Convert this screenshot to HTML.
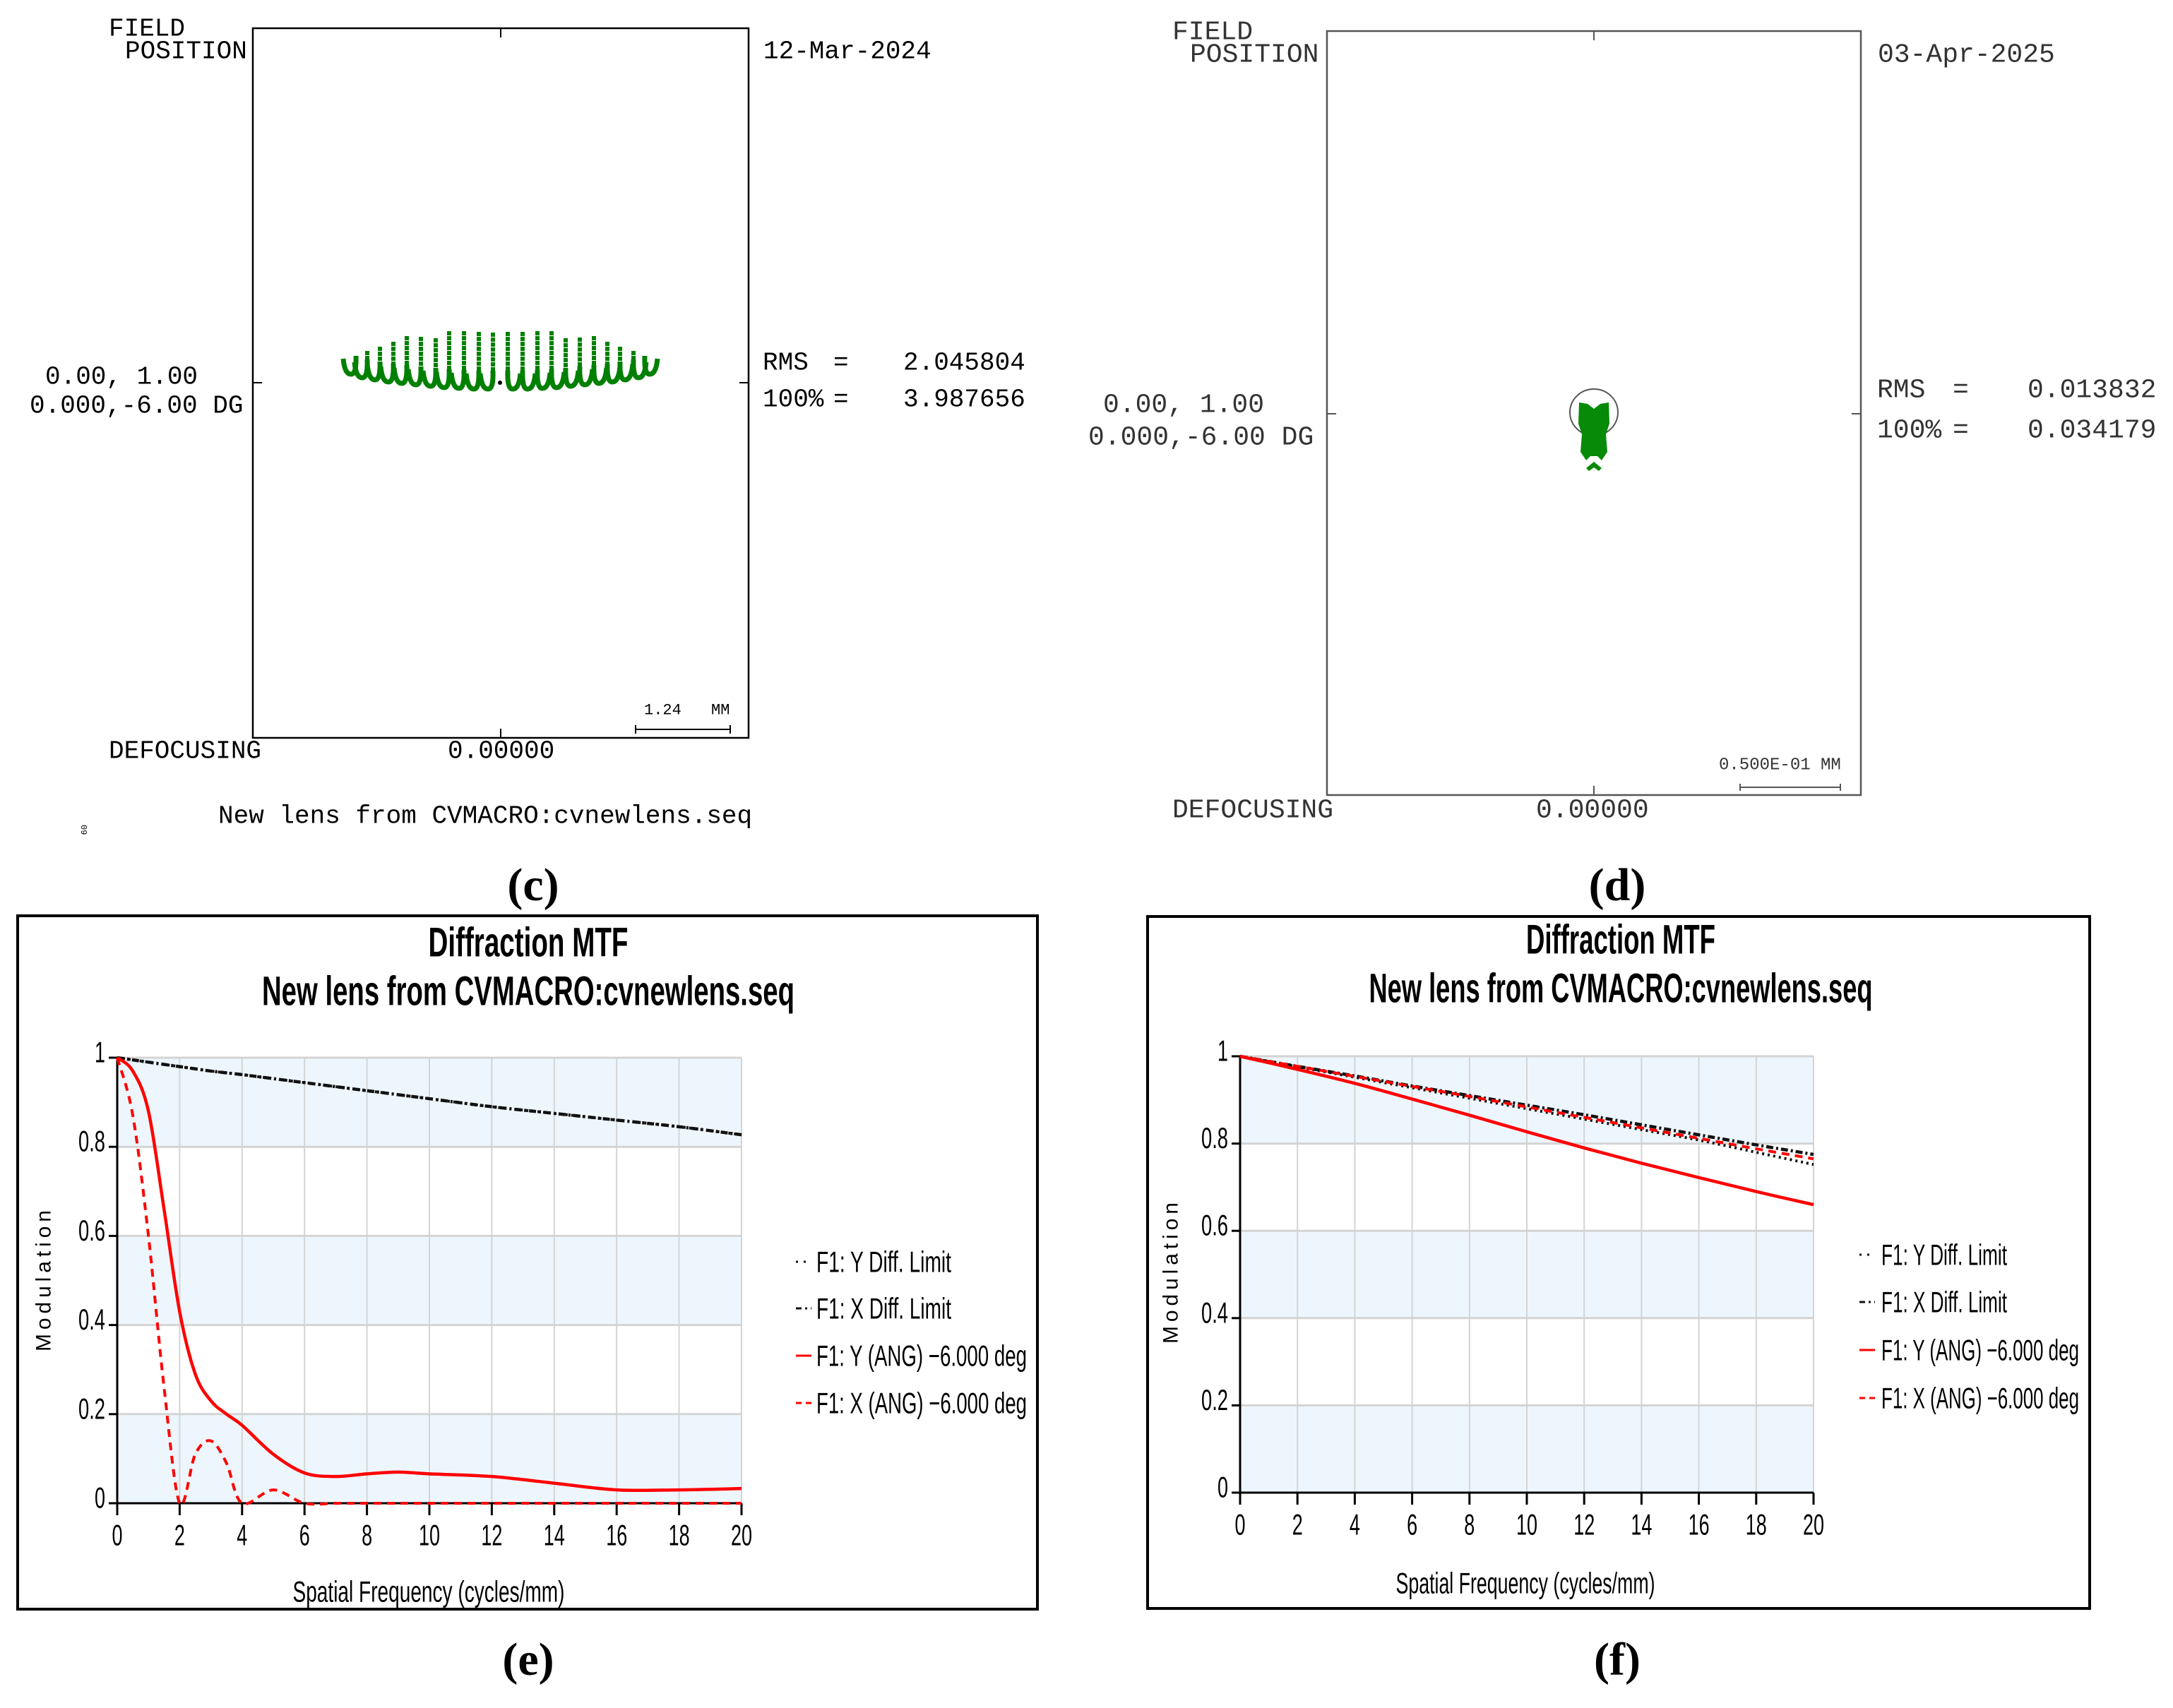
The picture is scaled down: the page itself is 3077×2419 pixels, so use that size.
<!DOCTYPE html>
<html><head><meta charset="utf-8"><style>
html,body{margin:0;padding:0;background:#fff;}
svg{display:block;}
.mono{font-family:"Liberation Mono","DejaVu Sans Mono",monospace;}
.nar{font-family:"Liberation Sans Narrow","Liberation Sans",sans-serif;}
.lab{font-family:"Liberation Serif",serif;font-weight:bold;font-size:66px;}
</style></head><body>
<svg id="root" xmlns="http://www.w3.org/2000/svg" width="3077" height="2419" viewBox="0 0 3077 2419">
<g id="pc" class="mono" font-size="36" fill="#000" dominant-baseline="central">
  <rect x="358" y="40" width="702" height="1005" fill="none" stroke="#000" stroke-width="2.5"/>
  <line x1="709" y1="40" x2="709" y2="53" stroke="#000" stroke-width="2"/>
  <line x1="709" y1="1045" x2="709" y2="1032" stroke="#000" stroke-width="2"/>
  <line x1="358" y1="542" x2="371" y2="542" stroke="#000" stroke-width="2"/>
  <line x1="1060" y1="542" x2="1047" y2="542" stroke="#000" stroke-width="2"/>
  <text x="154" y="41">FIELD</text>
  <text x="177" y="73">POSITION</text>
  <text x="1081" y="73">12-Mar-2024</text>
  <text x="64" y="534">0.00, 1.00</text>
  <text x="42" y="575">0.000,-6.00 DG</text>
  <text x="1080" y="514">RMS</text>
  <text x="1180" y="514">=</text>
  <text x="1279" y="514">2.045804</text>
  <text x="1080" y="566">100%</text>
  <text x="1180" y="566">=</text>
  <text x="1279" y="566">3.987656</text>
  <text x="912" y="1006" font-size="22">1.24</text>
  <text x="1007" y="1006" font-size="22">MM</text>
  <g stroke="#000" stroke-width="2">
    <line x1="900" y1="1033" x2="1034" y2="1033"/><line x1="900" y1="1027" x2="900" y2="1039"/><line x1="1034" y1="1027" x2="1034" y2="1039"/>
  </g>
  <text x="154" y="1064">DEFOCUSING</text>
  <text x="634" y="1064">0.00000</text>
  <text x="309" y="1156">New lens from CVMACRO:cvnewlens.seq</text>
  <text x="118" y="1168" font-size="12" transform="rotate(90 118 1168)">09</text>
  <g id="spotc"></g>
</g>
<g id="pd" class="mono" font-size="38" fill="#333" dominant-baseline="central">
  <rect x="1879" y="44" width="756" height="1082" fill="none" stroke="#555" stroke-width="2.5"/>
  <line x1="2257" y1="44" x2="2257" y2="57" stroke="#555" stroke-width="2"/>
  <line x1="2257" y1="1126" x2="2257" y2="1113" stroke="#555" stroke-width="2"/>
  <line x1="1879" y1="586" x2="1892" y2="586" stroke="#555" stroke-width="2"/>
  <line x1="2635" y1="586" x2="2622" y2="586" stroke="#555" stroke-width="2"/>
  <text x="1660" y="46">FIELD</text>
  <text x="1685" y="78">POSITION</text>
  <text x="2659" y="78">03-Apr-2025</text>
  <text x="1562" y="574">0.00, 1.00</text>
  <text x="1541" y="620">0.000,-6.00 DG</text>
  <text x="2658" y="553">RMS</text>
  <text x="2765" y="553">=</text>
  <text x="2871" y="553">0.013832</text>
  <text x="2658" y="610">100%</text>
  <text x="2765" y="610">=</text>
  <text x="2871" y="610">0.034179</text>
  <text x="2434" y="1084" font-size="24">0.500E-01 MM</text>
  <g stroke="#555" stroke-width="2">
    <line x1="2464" y1="1115" x2="2606" y2="1115"/><line x1="2464" y1="1110" x2="2464" y2="1120"/><line x1="2606" y1="1110" x2="2606" y2="1120"/>
  </g>
  <text x="1660" y="1148">DEFOCUSING</text>
  <text x="2175" y="1148">0.00000</text>
  <ellipse cx="2257" cy="584" rx="34" ry="33" fill="none" stroke="#555" stroke-width="2"/>
  <g fill="#078a07">
    <path d="M2236,570 L2248,572 L2257,579 L2266,572 L2278,570 L2279,600 L2274,615 L2276,640 L2268,652 L2262,646 L2252,646 L2246,652 L2238,640 L2240,615 L2235,600 Z"/>
    <path d="M2246,663 L2257,654 L2268,663 L2264,667 L2257,662 L2250,667 Z"/>
  </g>
</g>
<text class="lab" x="755" y="1275" text-anchor="middle">(c)</text>
<text class="lab" x="2290" y="1275" text-anchor="middle">(d)</text>
<text class="lab" x="748" y="2372" text-anchor="middle">(e)</text>
<text class="lab" x="2290" y="2372" text-anchor="middle">(f)</text>
<g id="chartE"></g>
<g id="chartF"></g>
</svg>
<script>
// ---- Chart E data ----
const freqE = [0,0.5,1,1.5,2,2.5,3,3.5,4,5,6,7,8,9,10,12,14,16,18,20];
const yDiffE = [1,0.995,0.99,0.985,0.98,0.975,0.97,0.966,0.962,0.953,0.944,0.935,0.926,0.917,0.908,0.89,0.875,0.86,0.845,0.827];
const xDiffE = [1,0.995,0.99,0.985,0.98,0.975,0.97,0.966,0.962,0.953,0.944,0.935,0.926,0.917,0.908,0.89,0.875,0.86,0.845,0.827];
const yAngE = [1,0.97,0.88,0.66,0.43,0.29,0.23,0.2,0.175,0.11,0.068,0.06,0.066,0.07,0.066,0.06,0.045,0.03,0.03,0.033];
const xAngE = [1,0.87,0.6,0.26,0,0.11,0.14,0.09,0,0.03,0,0,0,0,0,0,0,0,0,0];
// ---- Chart F data ----
const freqF = [0,2,4,6,8,10,12,14,16,18,20];
const yDiffF = [1,0.976,0.952,0.928,0.904,0.88,0.856,0.832,0.808,0.78,0.752];
const xDiffF = [1,0.977,0.955,0.932,0.91,0.888,0.866,0.843,0.82,0.797,0.775];
const yAngF = [1,0.97,0.938,0.902,0.865,0.827,0.79,0.755,0.722,0.69,0.66];
const xAngF = [1,0.977,0.954,0.931,0.908,0.884,0.86,0.836,0.812,0.788,0.765];
// ---- shared ticks / legend ----
const xTicks = [0,2,4,6,8,10,12,14,16,18,20];
const yTicks = [0,0.2,0.4,0.6,0.8,1];
const yTickLabels = ['0','0.2','0.4','0.6','0.8','1'];
const legendLabels = ['F1: Y Diff. Limit','F1: X Diff. Limit','F1: Y (ANG) \u22126.000 deg','F1: X (ANG) \u22126.000 deg'];
// ---- spot C columns ----
const colX = [504,520,538,557,576,596,617,636,657,678,698,719,740,761,781,801,821,841,860,878,897,913];
const colTop = [512,500,494,487,479,480,482,472,472,473,474,473,473,472,472,482,481,479,487,494,500,512];
const colBot = [530,535,538,541,543,545,547,549,550,551,551,551,551,550,549,547,545,543,541,538,535,530];

const NS='http://www.w3.org/2000/svg';
function mk(tag,attrs,parent){const e=document.createElementNS(NS,tag);for(const k in attrs)e.setAttribute(k,attrs[k]);if(parent)parent.appendChild(e);return e;}
function numW(s){let w=0;for(const ch of s){w+=(ch==='.')?8:15;}return w;}

(function(){
  const g=document.getElementById('spotc');
  for(let i=0;i<colX.length;i++){
    const x=colX[i], t=colTop[i], b=colBot[i];
    const left = i<colX.length/2;
    for(let y=t;y<b-8;y+=7){
      const r=mk('rect',{x:x-3,y:y-3,width:6,height:6,fill:'#008000'},g);
      
      
    }
    const d = left
      ? `M${x},${b-26} Q${x+1},${b} ${x-7},${b} Q${x-16},${b} ${x-18},${b-22}`
      : `M${x},${b-26} Q${x-1},${b} ${x+7},${b} Q${x+16},${b} ${x+18},${b-22}`;
    const p=mk('path',{d:d,fill:'none',stroke:'#008000','stroke-width':7},g);
    
    
  }
  const c=mk('circle',{cx:708,cy:542,r:3,fill:'#000'},g);
  
  
})();

function smooth(pts){
  let d=`M${pts[0][0]},${pts[0][1]}`;
  for(let i=0;i<pts.length-1;i++){
    const p0=pts[Math.max(0,i-1)],p1=pts[i],p2=pts[i+1],p3=pts[Math.min(pts.length-1,i+2)];
    const c1=[p1[0]+(p2[0]-p0[0])/6,p1[1]+(p2[1]-p0[1])/6];
    const c2=[p2[0]-(p3[0]-p1[0])/6,p2[1]-(p3[1]-p1[1])/6];
    d+=` C${c1[0]},${c1[1]} ${c2[0]},${c2[1]} ${p2[0]},${p2[1]}`;
  }
  return d;
}

function drawChart(g,cfg,freq,series){
  const X=v=>cfg.x0+(v/20)*(cfg.x1-cfg.x0);
  const Y=v=>cfg.y0-v*(cfg.y0-cfg.y1);
  const fr=mk('rect',{x:cfg.fx,y:cfg.fy,width:cfg.fw,height:cfg.fh,fill:'#fff',stroke:'#000','stroke-width':4},g);
  
  
  for(let i=0;i<5;i++){
    const lo=yTicks[i],hi=yTicks[i+1];
    const r=mk('rect',{x:X(0),y:Y(hi),width:X(20)-X(0),height:Y(lo)-Y(hi),fill:(i%2===0)?'#eef6fd':'#fff'},g);
    
    
  }
  xTicks.forEach(t=>{
    const l=mk('line',{x1:X(t),y1:Y(0),x2:X(t),y2:Y(1),stroke:'#d4d4d4','stroke-width':2},g);
    
    
    const tk=mk('line',{x1:X(t),y1:Y(0),x2:X(t),y2:Y(0)+17,stroke:'#000','stroke-width':3},g);
    
    
    const s=String(t);
    const tx=mk('text',{x:X(t),y:cfg.xly,'text-anchor':'middle','dominant-baseline':'central','font-size':42,class:'nar',fill:'#000',textLength:numW(s),lengthAdjust:'spacingAndGlyphs'},g);
    tx.textContent=s;
    
    
  });
  yTicks.forEach((t,i)=>{
    const l=mk('line',{x1:X(0),y1:Y(t),x2:X(20),y2:Y(t),stroke:'#d4d4d4','stroke-width':3},g);
    
    
    const tk=mk('line',{x1:X(0)-12,y1:Y(t),x2:X(0),y2:Y(t),stroke:'#000','stroke-width':3},g);
    
    
    const s=yTickLabels[i];
    const tx=mk('text',{x:X(0)-17,y:Y(t)-8,'text-anchor':'end','dominant-baseline':'central','font-size':42,class:'nar',fill:'#000',textLength:numW(s),lengthAdjust:'spacingAndGlyphs'},g);
    tx.textContent=s;
    
    
  });
  const ax1=mk('line',{x1:X(0),y1:Y(0),x2:X(20),y2:Y(0),stroke:'#000','stroke-width':3},g);
  
  
  const ax2=mk('line',{x1:X(0),y1:Y(0),x2:X(0),y2:Y(1),stroke:'#000','stroke-width':3},g);
  
  
  const styles=[
    {stroke:'#111',dash:'3,5',w:4},
    {stroke:'#111',dash:'10,4,3,4',w:4.5},
    {stroke:'#ff0000',dash:'',w:4.5},
    {stroke:'#ff0000',dash:'11,8',w:4}];
  const names=['series-y-diff-limit','series-x-diff-limit','series-y-ang','series-x-ang'];
  series.forEach((vals,si)=>{
    const pts=freq.map((f,k)=>[X(f),Y(vals[k])]);
    const p=mk('path',{d:smooth(pts),fill:'none',stroke:styles[si].stroke,'stroke-width':styles[si].w,'stroke-dasharray':styles[si].dash},g);
    
    
  });
  const t1=mk('text',{x:cfg.tcx,y:cfg.t1y,'text-anchor':'middle','dominant-baseline':'central','font-size':58,'font-weight':'bold',class:'nar',textLength:cfg.t1w,lengthAdjust:'spacingAndGlyphs'},g);
  t1.textContent='Diffraction MTF';
  
  
  const t2=mk('text',{x:cfg.tcx,y:cfg.t2y,'text-anchor':'middle','dominant-baseline':'central','font-size':58,'font-weight':'bold',class:'nar',textLength:cfg.t2w,lengthAdjust:'spacingAndGlyphs'},g);
  t2.textContent='New lens from CVMACRO:cvnewlens.seq';
  
  
  const xt=mk('text',{x:cfg.xtx,y:cfg.xty,'text-anchor':'middle','dominant-baseline':'central','font-size':42,class:'nar',textLength:cfg.xtw,lengthAdjust:'spacingAndGlyphs'},g);
  xt.textContent='Spatial Frequency (cycles/mm)';
  
  
  const yt=mk('text',{x:cfg.ytx,y:cfg.yty,'text-anchor':'middle','dominant-baseline':'central','font-size':30,'font-family':'Liberation Sans, sans-serif',textLength:200,lengthAdjust:'spacing',transform:`rotate(-90 ${cfg.ytx} ${cfg.yty})`},g);
  yt.textContent='Modulation';
  
  
  const lw=[cfg.lw1,cfg.lw1,cfg.lw2,cfg.lw2];
  legendLabels.forEach((lab,i)=>{
    const y=cfg.legY[i];
    const s=mk('line',{x1:cfg.lsx,y1:y,x2:cfg.lsx+22,y2:y,stroke:styles[i].stroke,'stroke-width':3,'stroke-dasharray':i===0?'3,8':(i===1?'8,5,3,5':(i===3?'8,6':''))},g);
    
    
    const t=mk('text',{x:cfg.ltx,y:y,'dominant-baseline':'central','font-size':42,class:'nar',textLength:lw[i],lengthAdjust:'spacingAndGlyphs'},g);
    t.textContent=lab;
    
    
  });
}

drawChart(document.getElementById('chartE'),
  {fx:25,fy:1297,fw:1444,fh:982,x0:166,x1:1050,y0:2129,y1:1498,xly:2174,
   tcx:748,t1y:1335,t2y:1404,t1w:283,t2w:754,xtx:607,xty:2254,xtw:385,ytx:62,yty:1814,
   lsx:1127,ltx:1156,legY:[1787,1853,1920,1987],lw1:191,lw2:298},
  freqE,[yDiffE,xDiffE,yAngE,xAngE]);
drawChart(document.getElementById('chartF'),
  {fx:1625,fy:1298,fw:1334,fh:980,x0:1756,x1:2568,y0:2114,y1:1496,xly:2159,
   tcx:2295,t1y:1331,t2y:1400,t1w:268,t2w:713,xtx:2160,xty:2242,xtw:367,ytx:1658,yty:1803,
   lsx:2633,ltx:2664,legY:[1777,1844,1912,1980],lw1:178,lw2:280},
  freqF,[yDiffF,xDiffF,yAngF,xAngF]);
</script>
</body></html>
